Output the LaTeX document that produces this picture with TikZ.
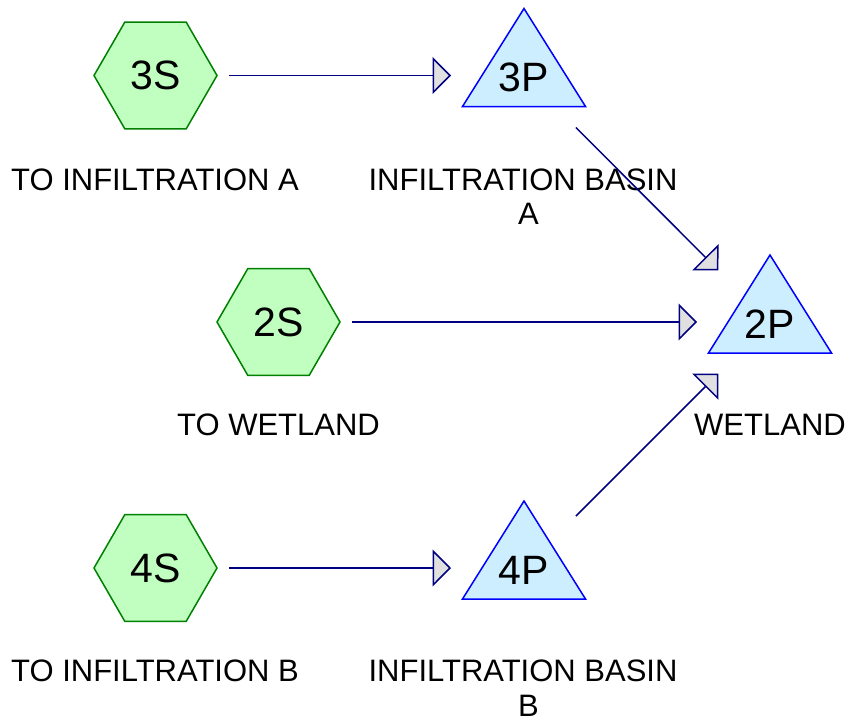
\documentclass[tikz,border=0pt]{standalone}
\usepackage{fontspec}
\setmainfont{Liberation Sans}
\usetikzlibrary{shapes.geometric,arrows.meta,calc}

\definecolor{catchfill}{HTML}{C0FFC0}
\definecolor{catchline}{HTML}{008000}
\definecolor{pondfill}{HTML}{CCEEFF}
\definecolor{pondline}{HTML}{0000FF}
\definecolor{flowline}{HTML}{000080}
\definecolor{tipfill}{HTML}{E0E0E0}

\tikzset{
  subcat/.style={regular polygon, regular polygon sides=6, minimum size=123pt,
    inner sep=0pt, draw=catchline, fill=catchfill, line width=1.5pt,
    font=\fontsize{41}{41}\selectfont},
  pondtext/.style={inner sep=0pt, text height=32.6pt, text depth=0pt,
    font=\fontsize{41}{41}\selectfont},
  pondshape/.style={draw=pondline, fill=pondfill, line width=1.5pt},
  caption/.style={anchor=base, inner sep=0pt, align=center,
    font=\fontsize{31}{34.5}\selectfont},
  flow/.style={draw=flowline, line width=1.5pt, shorten <=73.5pt, shorten >=73pt,
    -{Triangle[width=37pt,length=18.5pt,fill=tipfill]}},
}

% pond: triangle drawn around a named text node
\newcommand\pondnode[4]{%
  \path[pondshape] ($(#2,#3)+(0,-67)$) -- ($(#2,#3)+(61.5,31)$)
    -- ($(#2,#3)+(-61.5,31)$) -- cycle;
  \node[pondtext] (#1) at (#2,#3) {#4};}

\begin{document}
\begin{tikzpicture}[x=1pt,y=-1pt]
  \fill[white] (0,0) rectangle (849,723);
  \useasboundingbox (0,0) rectangle (849,723);

  % subcatchments
  \node[subcat] (3S) at (155.5,75.5) {3S};
  \node[subcat] (2S) at (278.5,322) {2S};
  \node[subcat] (4S) at (155.5,568) {4S};

  % ponds
  \pondnode{3P}{524}{75.5}{3P}
  \pondnode{2P}{770}{322}{2P}
  \pondnode{4P}{524}{568}{4P}

  % captions (base anchor sits on the last line)
  \node[caption] (l3S) at (155,190.7) {TO INFILTRATION A};
  \node[caption] (l3P) at (523,224.8) {INFILTRATION BASIN\\\hspace*{11pt}A};
  \node[caption] (l2S) at (278.5,435.7) {TO WETLAND};
  \node[caption] (l2P) at (770,435.7) {WETLAND};
  \node[caption] (l4S) at (155,681.7) {TO INFILTRATION B};
  \node[caption] (l4P) at (523,716.2) {INFILTRATION BASIN\\\hspace*{11pt}B};

  % flows
  \draw[flow] (3S.center) -- (3P.center);
  \draw[flow] (2S.center) -- (2P.center);
  \draw[flow] (4S.center) -- (4P.center);
  \draw[flow] (3P.center) -- (2P.center);
  \draw[flow] (4P.center) -- (2P.center);
\end{tikzpicture}
\end{document}
